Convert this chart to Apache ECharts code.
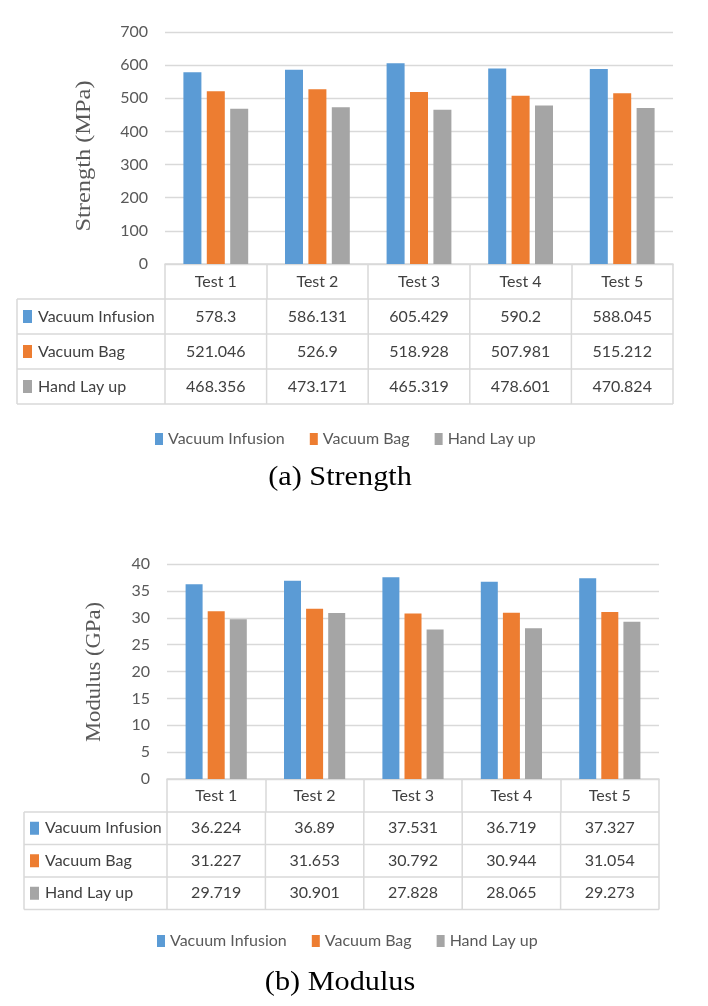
<!DOCTYPE html>
<html lang="en">
<head>
<meta charset="UTF-8" />
<title>Strength and Modulus</title>
<script src="https://cdn.jsdelivr.net/npm/echarts@6/dist/echarts.min.js"></script>
<style>
  html, body { margin: 0; padding: 0; background: #fff; }
  #main { width: 708px; height: 1006px; }
</style>
</head>
<body>
<div id="main"></div>
<script>
const tests = ['Test 1', 'Test 2', 'Test 3', 'Test 4', 'Test 5']
const seriesNames = ['Vacuum Infusion', 'Vacuum Bag', 'Hand Lay up']
const colors = ['#5b9bd5', '#ed7d31', '#a5a5a5']

// (a) strength, MPa
const strengthInfusion = [578.3, 586.131, 605.429, 590.2, 588.045]
const strengthBag = [521.046, 526.9, 518.928, 507.981, 515.212]
const strengthHand = [468.356, 473.171, 465.319, 478.601, 470.824]
const strengthAxis = { max: 700, interval: 100 }

// (b) modulus, GPa
const modulusInfusion = [36.224, 36.89, 37.531, 36.719, 37.327]
const modulusBag = [31.227, 31.653, 30.792, 30.944, 31.054]
const modulusHand = [29.719, 30.901, 27.828, 28.065, 29.273]
const modulusAxis = { max: 40, interval: 5 }

const FONT = 'Lato, "Open Sans", sans-serif'
const SERIF = '"Liberation Serif", "Times New Roman", serif'
const LINE = '#d9d9d9'

const panels = [
  {
    grid: { left: 165, right: 35, top: 32, height: 232 },
    axis: strengthAxis, barWidth: 18,
    data: [strengthInfusion, strengthBag, strengthHand],
    yName: 'Strength (MPa)', yNameX: 85, yNameY: 156, yNameScale: 1.22,
    headerH: 35, rowH: 35, tableLeft: 17, labelMargin: 10,
    legendLeft: 150, legendTop: 426,
    caption: '(a) Strength', captionY: 478
  },
  {
    grid: { left: 167, right: 49, top: 564, height: 215 },
    axis: modulusAxis, barWidth: 17,
    data: [modulusInfusion, modulusBag, modulusHand],
    yName: 'Modulus (GPa)', yNameX: 95, yNameY: 672, yNameScale: 1.13,
    headerH: 33, rowH: 32.5, tableLeft: 24, labelMargin: 9,
    legendLeft: 152, legendTop: 928,
    caption: '(b) Modulus', captionY: 983
  }
]

const chart = echarts.init(document.getElementById('main'))

const option = {
  animation: false,
  grid: panels.map(p => p.grid),
  legend: panels.map(p => ({
    data: seriesNames,
    left: p.legendLeft,
    top: p.legendTop,
    icon: 'rect',
    itemWidth: 8,
    itemHeight: 12,
    itemGap: 25,
    textStyle: { color: '#595959', fontSize: 16, fontFamily: FONT }
  })),
  xAxis: panels.map((p, i) => ({
    type: 'category',
    gridIndex: i,
    data: tests,
    axisLine: { lineStyle: { color: LINE, width: 1.5 } },
    axisTick: { show: true, interval: 0, length: p.headerH, lineStyle: { color: LINE, width: 1.5 } },
    axisLabel: { color: '#404040', fontSize: 16, fontFamily: FONT, margin: p.labelMargin, interval: 0 }
  })),
  yAxis: panels.map((p, i) => ({
    type: 'value',
    gridIndex: i,
    min: 0,
    max: p.axis.max,
    interval: p.axis.interval,
    axisLine: { show: false },
    axisTick: { show: false },
    axisLabel: { color: '#595959', fontSize: 16, fontFamily: FONT, margin: 17 },
    splitLine: { lineStyle: { color: LINE, width: 1.3 } }
  })),
  series: []
}

panels.forEach((p, i) => {
  seriesNames.forEach((name, k) => {
    option.series.push({
      type: 'bar',
      name: name,
      xAxisIndex: i,
      yAxisIndex: i,
      barWidth: p.barWidth,
      barGap: '30%',
      itemStyle: { color: colors[k] },
      data: p.data[k]
    })
  })
})

chart.setOption(option)

// data table under each chart, lined up with the category axis
function buildGraphics() {
  const g = []
  panels.forEach((p, i) => {
    const c0 = chart.convertToPixel({ xAxisIndex: i }, tests[0])
    const c1 = chart.convertToPixel({ xAxisIndex: i }, tests[1])
    const w = c1 - c0
    const x0 = c0 - w / 2
    const xEnd = x0 + w * tests.length
    const yTop = chart.convertToPixel({ yAxisIndex: i }, 0) + p.headerH
    const yBottom = yTop + p.rowH * seriesNames.length
    const line = (x1, y1, x2, y2) => ({
      type: 'line', silent: true,
      shape: { x1, y1, x2, y2 },
      style: { stroke: LINE, lineWidth: 1.5 }
    })

    for (let r = 0; r <= seriesNames.length; r++) {
      const y = yTop + r * p.rowH
      g.push(line(p.tableLeft, y, xEnd, y))
    }
    g.push(line(p.tableLeft, yTop, p.tableLeft, yBottom))
    for (let c = 0; c <= tests.length; c++) {
      const x = x0 + c * w
      g.push(line(x, yTop, x, yBottom))
    }

    seriesNames.forEach((name, k) => {
      const yc = yTop + (k + 0.5) * p.rowH
      g.push({
        type: 'rect', silent: true,
        shape: { x: p.tableLeft + 6, y: yc - 6.5, width: 9, height: 13 },
        style: { fill: colors[k] }
      })
      g.push({
        type: 'text', silent: true,
        style: {
          text: name, x: p.tableLeft + 21, y: yc,
          fill: '#404040', fontSize: 16, fontFamily: FONT,
          align: 'left', verticalAlign: 'middle',
          textAlign: 'left', textVerticalAlign: 'middle'
        }
      })
      p.data[k].forEach((v, c) => {
        g.push({
          type: 'text', silent: true,
          style: {
            text: String(v), x: x0 + (c + 0.5) * w, y: yc,
            fill: '#404040', fontSize: 16, fontFamily: FONT,
            align: 'center', verticalAlign: 'middle',
            textAlign: 'center', textVerticalAlign: 'middle'
          }
        })
      })
    })

    // rotated axis title
    g.push({
      type: 'text', silent: true,
      x: p.yNameX, y: p.yNameY,
      rotation: Math.PI / 2,
      scaleX: p.yNameScale,
      style: {
        text: p.yName, x: 0, y: 0,
        fill: '#595959', fontSize: 20, fontFamily: SERIF,
        align: 'center', verticalAlign: 'middle',
        textAlign: 'center', textVerticalAlign: 'middle'
      }
    })

    // caption
    g.push({
      type: 'text', silent: true,
      x: 340, y: p.captionY,
      scaleX: 1.08,
      style: {
        text: p.caption, x: 0, y: 0,
        fill: '#000', fontSize: 28, fontFamily: SERIF,
        align: 'center', verticalAlign: 'middle',
        textAlign: 'center', textVerticalAlign: 'middle'
      }
    })
  })
  return g
}

chart.setOption({ graphic: buildGraphics() })
</script>
</body>
</html>
